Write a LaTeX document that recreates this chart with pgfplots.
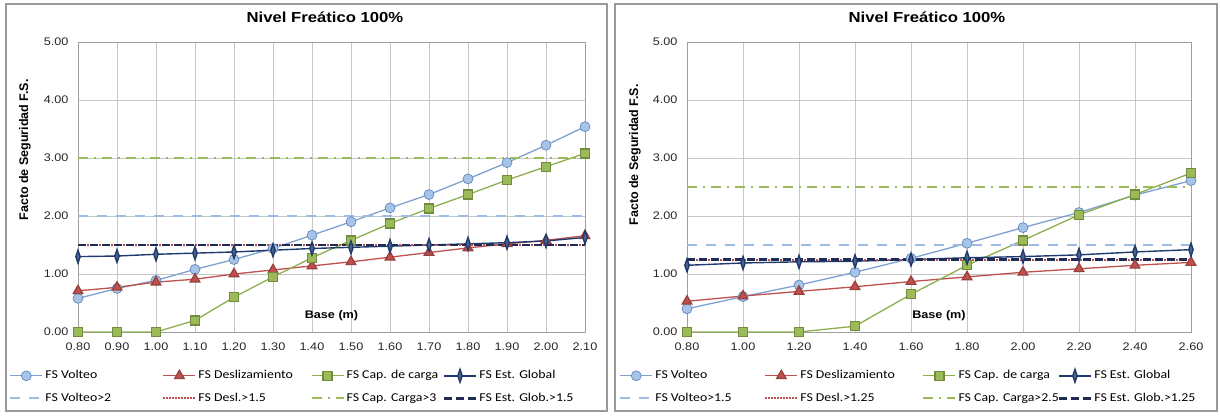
\documentclass[border=0pt]{standalone}
\usepackage{pgfplots}
\pgfplotsset{compat=1.18}
\usepackage{fontspec}
\setmainfont[FakeStretch=1.15]{Liberation Sans}
\newfontfamily\ylabfont{Liberation Sans}
\newfontfamily\legfont[FakeStretch=1.15]{Carlito}

\definecolor{cVol}{HTML}{7EA1D1}
\definecolor{cVolF}{HTML}{A6C3E8}
\definecolor{cVolD}{HTML}{5B7FB8}
\definecolor{cDes}{HTML}{C0504D}
\definecolor{cCap}{HTML}{8DAE4F}
\definecolor{cCapF}{HTML}{9BBB59}
\definecolor{cGlob}{HTML}{1F3B6E}
\definecolor{cGlobT}{HTML}{1F2A55}
\definecolor{cFrame}{HTML}{9A9A9A}

\pgfplotsset{
  panel/.style={
    scale only axis, height=290pt,
    ymin=0, ymax=5, ytick={0,1,2,3,4,5},
    yticklabels={0.00,1.00,2.00,3.00,4.00,5.00},
    grid=major, major grid style={draw=gray!45, line width=0.7pt},
    axis line style={draw=gray!75, line width=0.7pt},
    major tick length=0pt,
    tick label style={font=\fontsize{11}{13}\selectfont, text=black!85},
    yticklabel style={xshift=-6pt},
    xticklabel style={yshift=-7pt},
    clip=false,
    legend columns=4,
    legend cell align=left,
    legend image code/.code={\draw[mark repeat=2,mark phase=2] plot coordinates {(0pt,0pt)(16pt,0pt)(32pt,0pt)};},
    legend style={draw=none, fill=none, inner sep=0pt, anchor=north west,
      font=\legfont\fontsize{12}{14}\selectfont,
      column sep=0pt, row sep=10pt,
      /tikz/every odd column/.append style={column sep=1pt},
      nodes={inner sep=1pt, text height=8pt, text depth=2pt}},
  },
  svol/.style={color=cVol, line width=1.3pt, mark=*, mark size=5pt, mark options={fill=cVolF, draw=cVolD, line width=0.6pt}},
  sdes/.style={color=cDes, line width=1.3pt, mark=triangle*, mark size=5.5pt, mark options={fill=cDes, draw=cDes!80!black}},
  scap/.style={color=cCap, line width=1.3pt, mark=square*, mark size=4.5pt, mark options={fill=cCapF, draw=cCap!80!black}},
  sglob/.style={color=cGlob, line width=1.4pt, mark=diamond*, mark size=6.5pt, mark options={fill=cGlob!80, draw=cGlob, xscale=0.45}},
  tvol/.style={color=cVolF!80!cVol, line width=2.2pt, dash pattern=on 10pt off 9pt},
  tdes/.style={color=cDes, line width=2pt, dash pattern=on 1.5pt off 1.5pt},
  tcap/.style={color=cCapF, line width=2.2pt, dash pattern=on 10pt off 6pt on 2pt off 6pt},
  tglob/.style={color=cGlobT, line width=2.8pt, dash pattern=on 8pt off 4pt},
}

\begin{document}
\begin{tikzpicture}[x=1pt,y=1pt]
\path[use as bounding box] (0,0) rectangle (1220,415);
\draw[cFrame, line width=1.2pt] (6,4) rectangle (607,411);
\draw[cFrame, line width=1.2pt] (615,4) rectangle (1217,411);

% ---------------- Left panel ----------------
\begin{axis}[panel, at={(78pt,83pt)}, anchor=south west, width=507pt,
  xmin=0.8, xmax=2.1,
  xtick={0.8,0.9,1.0,1.1,1.2,1.3,1.4,1.5,1.6,1.7,1.8,1.9,2.0,2.1},
  xticklabels={0.80,0.90,1.00,1.10,1.20,1.30,1.40,1.50,1.60,1.70,1.80,1.90,2.00,2.10},
  legend style={at={(axis description cs:-0.136,-0.128)}},
]
\addplot[svol] coordinates {(0.8,0.58)(0.9,0.75)(1.0,0.89)(1.1,1.08)(1.2,1.25)(1.3,1.44)(1.4,1.67)(1.5,1.90)(1.6,2.14)(1.7,2.37)(1.8,2.64)(1.9,2.92)(2.0,3.22)(2.1,3.54)};
\addlegendentry{\makebox[116pt][l]{FS Volteo}}
\addplot[sdes] coordinates {(0.8,0.71)(0.9,0.77)(1.0,0.86)(1.1,0.91)(1.2,1.00)(1.3,1.07)(1.4,1.14)(1.5,1.21)(1.6,1.29)(1.7,1.37)(1.8,1.45)(1.9,1.52)(2.0,1.58)(2.1,1.66)};
\addlegendentry{\makebox[111pt][l]{FS Deslizamiento}}
\addplot[scap] coordinates {(0.8,0)(0.9,0)(1.0,0)(1.1,0.20)(1.2,0.60)(1.3,0.95)(1.4,1.28)(1.5,1.58)(1.6,1.87)(1.7,2.13)(1.8,2.37)(1.9,2.62)(2.0,2.85)(2.1,3.08)};
\addlegendentry{\makebox[95pt][l]{FS Cap. de carga}}
\addplot[sglob] coordinates {(0.8,1.30)(0.9,1.31)(1.0,1.34)(1.1,1.36)(1.2,1.38)(1.3,1.41)(1.4,1.44)(1.5,1.46)(1.6,1.48)(1.7,1.50)(1.8,1.52)(1.9,1.54)(2.0,1.57)(2.1,1.63)};
\addlegendentry{FS Est. Global}
\addplot[tvol] coordinates {(0.8,2)(2.1,2)};
\addlegendentry{\makebox[116pt][l]{FS Volteo>2}}
\addplot[tdes] coordinates {(0.8,1.5)(2.1,1.5)};
\addlegendentry{\makebox[111pt][l]{FS Desl.>1.5}}
\addplot[tcap] coordinates {(0.8,3)(2.1,3)};
\addlegendentry{\makebox[95pt][l]{FS Cap. Carga>3}}
\addplot[tglob] coordinates {(0.8,1.5)(2.1,1.5)};
\addlegendentry{FS Est. Glob.>1.5}
\node[font=\bfseries\fontsize{11}{13}\selectfont] at (axis cs:1.45,0.28) {Base (m)};
\end{axis}

% ---------------- Right panel ----------------
\begin{axis}[panel, at={(687pt,83pt)}, anchor=south west, width=504pt,
  xmin=0.8, xmax=2.6,
  xtick={0.8,1.0,1.2,1.4,1.6,1.8,2.0,2.2,2.4,2.6},
  xticklabels={0.80,1.00,1.20,1.40,1.60,1.80,2.00,2.20,2.40,2.60},
  legend style={at={(axis description cs:-0.135,-0.128)}},
]
\addplot[svol] coordinates {(0.8,0.40)(1.0,0.61)(1.2,0.81)(1.4,1.03)(1.6,1.27)(1.8,1.53)(2.0,1.80)(2.2,2.06)(2.4,2.36)(2.6,2.61)};
\addlegendentry{\makebox[108pt][l]{FS Volteo}}
\addplot[sdes] coordinates {(0.8,0.53)(1.0,0.62)(1.2,0.70)(1.4,0.78)(1.6,0.87)(1.8,0.95)(2.0,1.03)(2.2,1.09)(2.4,1.15)(2.6,1.20)};
\addlegendentry{\makebox[121pt][l]{FS Deslizamiento}}
\addplot[scap] coordinates {(0.8,0)(1.0,0)(1.2,0)(1.4,0.10)(1.6,0.65)(1.8,1.15)(2.0,1.58)(2.2,2.02)(2.4,2.37)(2.6,2.74)};
\addlegendentry{\makebox[98pt][l]{FS Cap. de carga}}
\addplot[sglob] coordinates {(0.8,1.15)(1.0,1.19)(1.2,1.21)(1.4,1.22)(1.6,1.25)(1.8,1.28)(2.0,1.30)(2.2,1.33)(2.4,1.38)(2.6,1.42)};
\addlegendentry{FS Est. Global}
\addplot[tvol] coordinates {(0.8,1.5)(2.6,1.5)};
\addlegendentry{\makebox[108pt][l]{FS Volteo>1.5}}
\addplot[tdes] coordinates {(0.8,1.25)(2.6,1.25)};
\addlegendentry{\makebox[121pt][l]{FS Desl.>1.25}}
\addplot[tcap] coordinates {(0.8,2.5)(2.6,2.5)};
\addlegendentry{\makebox[98pt][l]{FS Cap. Carga>2.5}}
\addplot[tglob] coordinates {(0.8,1.25)(2.6,1.25)};
\addlegendentry{FS Est. Glob.>1.25}
\node[font=\bfseries\fontsize{11}{13}\selectfont] at (axis cs:1.7,0.28) {Base (m)};
\end{axis}

% titles and y labels
\node[font=\bfseries\fontsize{14.5}{16}\selectfont] at (325,398) {Nivel Freático 100\%};
\node[font=\bfseries\fontsize{14.5}{16}\selectfont] at (927,398) {Nivel Freático 100\%};
\node[font=\ylabfont\bfseries\fontsize{12.5}{14}\selectfont, rotate=90] at (25,265) {Facto de Seguridad F.S.};
\node[font=\ylabfont\bfseries\fontsize{12.5}{14}\selectfont, rotate=90] at (635,260) {Facto de Seguridad F.S.};
\end{tikzpicture}
\end{document}
